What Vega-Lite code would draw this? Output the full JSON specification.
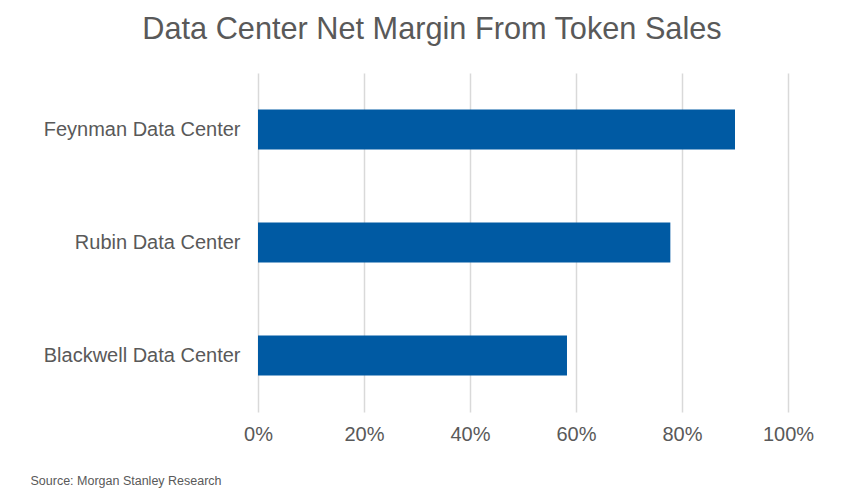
{
  "$schema": "https://vega.github.io/schema/vega-lite/v6.json",
  "width": 530,
  "height": 339,
  "autosize": {"type": "none"},
  "padding": {"left": 258, "top": 73, "right": 77, "bottom": 84},
  "background": "white",
  "title": {
    "text": "Data Center Net Margin From Token Sales",
    "font": "Liberation Sans",
    "fontSize": 30.7,
    "fontWeight": "normal",
    "color": "#595959",
    "anchor": "middle",
    "frame": "group",
    "dx": -91,
    "offset": 27
  },
  "data": {
    "values": [
      {"center": "Feynman Data Center", "margin": 0.90},
      {"center": "Rubin Data Center", "margin": 0.778},
      {"center": "Blackwell Data Center", "margin": 0.583}
    ]
  },
  "mark": {"type": "bar", "color": "#005AA3"},
  "encoding": {
    "y": {
      "field": "center",
      "type": "nominal",
      "sort": null,
      "scale": {"paddingInner": 0.646, "paddingOuter": 0.323},
      "axis": {
        "title": null,
        "ticks": false,
        "domain": false,
        "grid": false,
        "labelLimit": 0,
        "labelPadding": 18,
        "labelFont": "Liberation Sans",
        "labelFontSize": 20,
        "labelColor": "#595959"
      }
    },
    "x": {
      "field": "margin",
      "type": "quantitative",
      "scale": {"domain": [0, 1]},
      "axis": {
        "format": ".0%",
        "values": [0, 0.2, 0.4, 0.6, 0.8, 1],
        "ticks": false,
        "domain": false,
        "gridColor": "#d9d9d9",
        "gridWidth": 1.5,
        "labelFlush": false,
        "labelPadding": 12,
        "labelFont": "Liberation Sans",
        "labelFontSize": 20,
        "labelColor": "#595959",
        "title": "Source: Morgan Stanley Research",
        "titleFont": "Liberation Sans",
        "titleFontSize": 12.5,
        "titleFontWeight": "normal",
        "titleColor": "#595959",
        "titleAlign": "left",
        "titleBaseline": "alphabetic",
        "titleX": -228,
        "titleY": 72
      }
    }
  },
  "config": {"view": {"stroke": null}}
}
